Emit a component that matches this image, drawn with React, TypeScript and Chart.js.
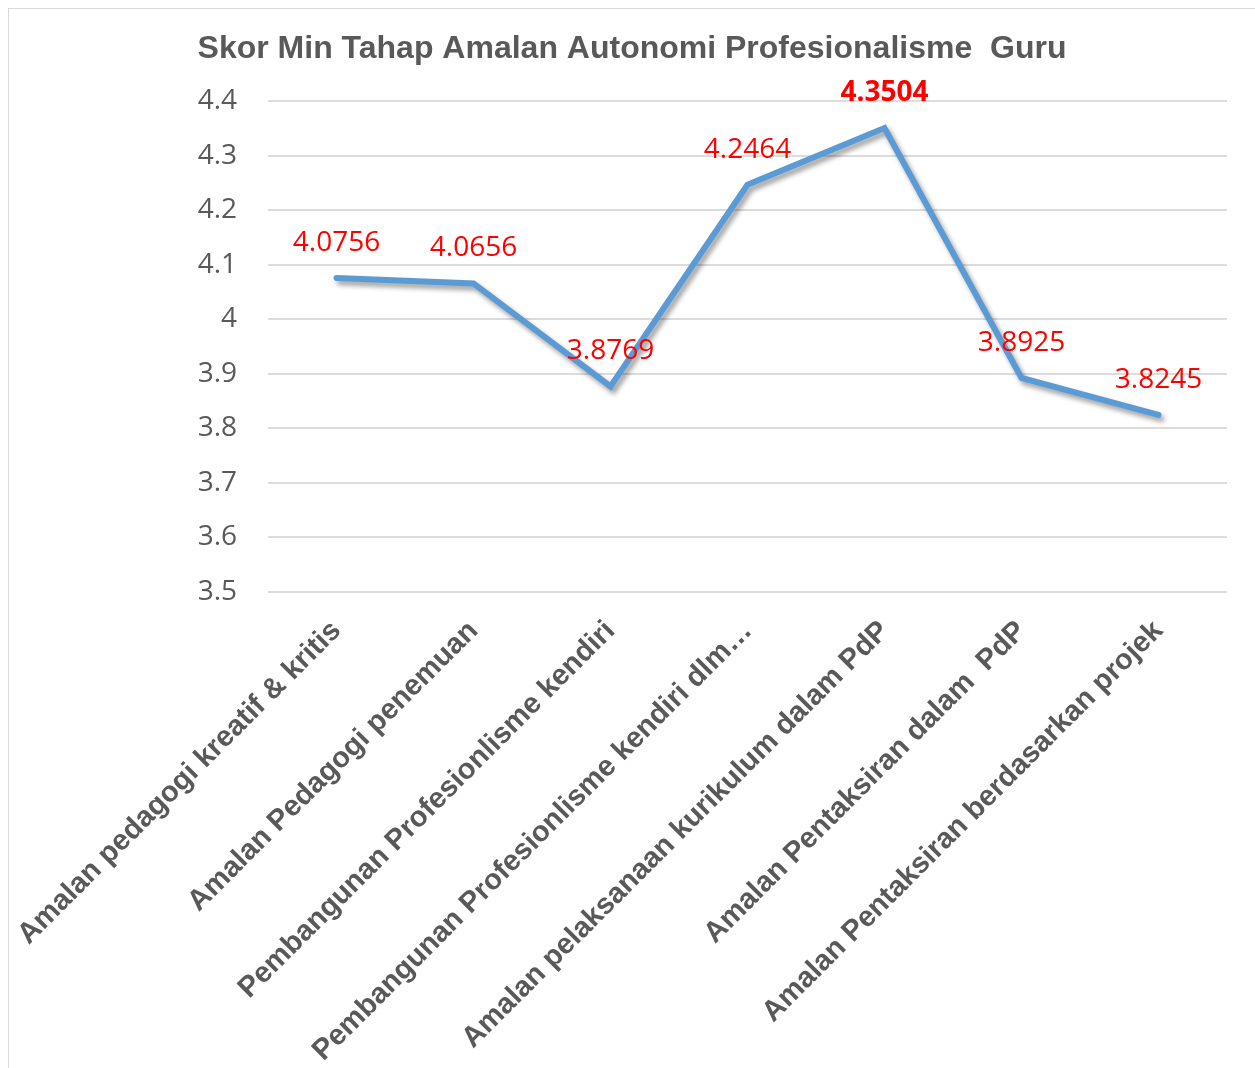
import { useEffect, useRef } from "react";
import { Chart, registerables } from "chart.js";

Chart.register(...registerables);

const TITLE = "Skor Min Tahap Amalan Autonomi Profesionalisme  Guru";

const categories = [
  "Amalan pedagogi kreatif & kritis",
  "Amalan Pedagogi penemuan",
  "Pembangunan Profesionlisme kendiri",
  "Pembangunan Profesionlisme kendiri dlm…",
  "Amalan pelaksanaan kurikulum dalam PdP",
  "Amalan Pentaksiran dalam  PdP",
  "Amalan Pentaksiran berdasarkan projek",
];

const scores = [4.0756, 4.0656, 3.8769, 4.2464, 4.3504, 3.8925, 3.8245];
const valueLabels = ["4.0756", "4.0656", "3.8769", "4.2464", "4.3504", "3.8925", "3.8245"];
const boldLabelIndices = [4];

const yMin = 3.5;
const yMax = 4.4;
const yStep = 0.1;

const CANVAS_W = 1246;
const CANVAS_H = 1059;
const AREA_LEFT = 259;
const AREA_BOTTOM = 583;
const AREA_RIGHT_GAP = 28;

export default function App() {
  const ref = useRef<HTMLCanvasElement | null>(null);

  useEffect(() => {
    const canvas = ref.current;
    if (!canvas) return;

    const labelPlugin = {
      id: "shadowAndLabels",
      beforeDatasetsDraw(chart: any) {
        const ctx = chart.ctx;
        ctx.save();
        ctx.shadowColor = "rgba(0,0,0,0.38)";
        ctx.shadowBlur = 5;
        ctx.shadowOffsetX = 3;
        ctx.shadowOffsetY = 4;
      },
      afterDatasetsDraw(chart: any) {
        const ctx = chart.ctx;
        ctx.restore();
        const meta = chart.getDatasetMeta(0);
        ctx.save();
        ctx.fillStyle = "#ff0000";
        ctx.textAlign = "center";
        ctx.textBaseline = "middle";
        meta.data.forEach((pt: any, i: number) => {
          const bold = boldLabelIndices.includes(i);
          ctx.font = `${bold ? "bold " : ""}28px "Open Sans"`;
          ctx.fillText(valueLabels[i], pt.x, pt.y - 35);
        });
        ctx.restore();
      },
    };

    const chart = new Chart(canvas, {
      type: "line",
      data: {
        labels: categories,
        datasets: [
          {
            data: scores,
            borderColor: "#5B9BD5",
            borderWidth: 6,
            pointRadius: 0,
            tension: 0,
            borderCapStyle: "round",
            borderJoinStyle: "miter",
            fill: false,
          },
        ],
      },
      options: {
        responsive: false,
        animation: false,
        devicePixelRatio: 1,
        layout: { padding: 0 },
        plugins: {
          legend: { display: false },
          tooltip: { enabled: false },
          title: {
            display: true,
            text: TITLE,
            color: "#595959",
            font: { family: "Liberation Sans", weight: "bold", size: 32, lineHeight: 1.2 },
            padding: { top: 21, bottom: 32.6 },
          },
        },
        scales: {
          x: {
            offset: true,
            grid: { display: false },
            border: { display: false },
            ticks: {
              autoSkip: false,
              maxRotation: 45,
              minRotation: 45,
              color: "#595959",
              padding: 14,
              font: { family: "Liberation Sans", weight: "bold", size: 29 },
            },
            afterFit(scale: any) {
              scale.height = CANVAS_H - AREA_BOTTOM;
              scale.paddingLeft = 0;
              scale.paddingRight = AREA_RIGHT_GAP;
            },
          },
          y: {
            min: yMin,
            max: yMax,
            grid: { color: "#dcdcdc", lineWidth: 2, drawTicks: false },
            border: { display: false },
            ticks: {
              stepSize: yStep,
              padding: 31,
              color: "#595959",
              font: { family: "Open Sans", size: 28 },
              callback: (v: any) => Number(v).toFixed(1).replace(/\.0$/, ""),
            },
            afterFit(scale: any) {
              scale.width = AREA_LEFT;
            },
          },
        },
      },
      plugins: [labelPlugin],
    });

    return () => chart.destroy();
  }, []);

  return (
    <div
      style={{
        position: "fixed",
        left: 8,
        top: 8,
        width: 1247,
        height: 1060,
        borderLeft: "1px solid #d9d9d9",
        borderTop: "1px solid #d9d9d9",
        background: "#fff",
      }}
    >
      <canvas
        ref={ref}
        width={CANVAS_W}
        height={CANVAS_H}
        style={{ display: "block", width: CANVAS_W, height: CANVAS_H }}
      />
    </div>
  );
}
